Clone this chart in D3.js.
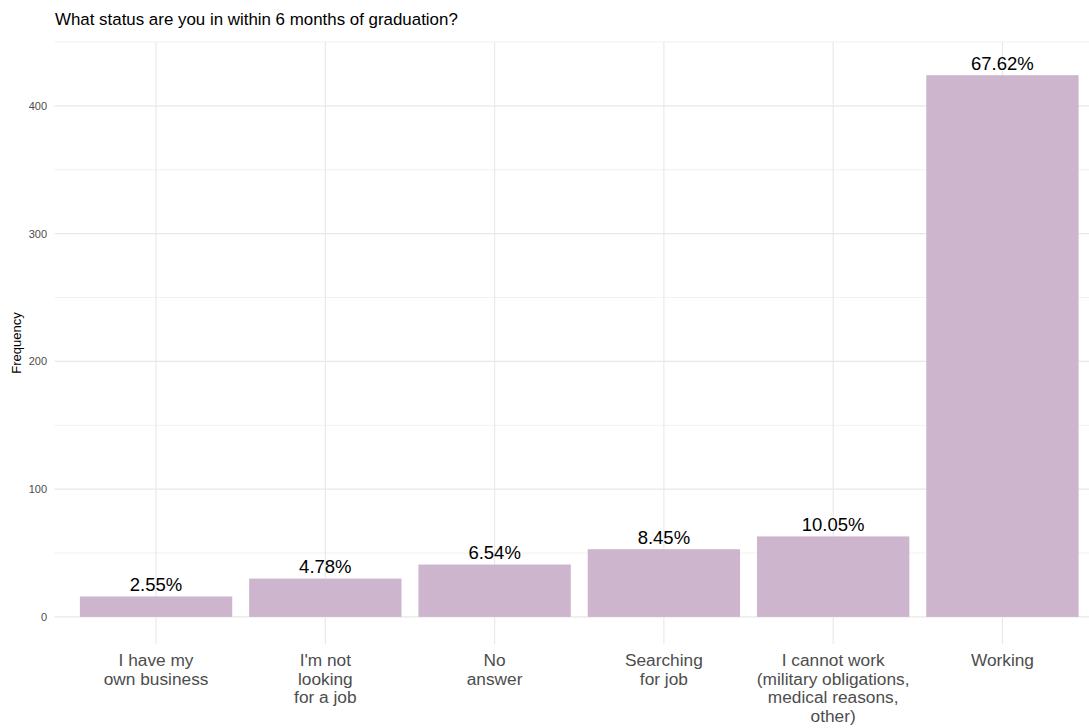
<!DOCTYPE html>
<html><head><meta charset="utf-8">
<script src="https://cdn.jsdelivr.net/npm/d3@7"></script>
<style>body{margin:0;background:#fff}svg{display:block}text{font-family:"Liberation Sans",Arial,sans-serif}</style>
</head><body><svg id="c" width="1089" height="728"></svg>
<script>
const categories = [
  ["I have my","own business"],
  ["I'm not","looking","for a job"],
  ["No","answer"],
  ["Searching","for job"],
  ["I cannot work","(military obligations,","medical reasons,","other)"],
  ["Working"]
];
const counts = [16, 30, 41, 53, 63, 424];
const pctLabels = ["2.55%","4.78%","6.54%","8.45%","10.05%","67.62%"];
const yTicks = [0, 100, 200, 300, 400];
const yMinor = [50, 150, 250, 350, 450];
const title = "What status are you in within 6 months of graduation?";
const yTitle = "Frequency";

const svg = d3.select("#c");
const panel = {left: 54.5, right: 1104, top: 42, bottom: 644};
const idx = d3.range(categories.length);
const unit = (panel.right - panel.left) / (categories.length - 1 + 1.2);
const x = d3.scaleLinear().domain([-0.6, categories.length - 0.4]).range([panel.left, panel.right]);
const y = d3.scaleLinear().domain([-21.2, 450]).range([panel.bottom, panel.top]);
const g = svg.append("g");

g.selectAll(".ymin").data(yMinor).join("line")
  .attr("x1", panel.left).attr("x2", panel.right)
  .attr("y1", d => y(d)).attr("y2", d => y(d))
  .attr("stroke", "#ededed").attr("stroke-width", 0.8);
g.selectAll(".ymaj").data(yTicks).join("line")
  .attr("x1", panel.left).attr("x2", panel.right)
  .attr("y1", d => y(d)).attr("y2", d => y(d))
  .attr("stroke", "#e8e8e8").attr("stroke-width", 1.1);
g.selectAll(".xmaj").data(idx).join("line")
  .attr("x1", d => x(d)).attr("x2", d => x(d))
  .attr("y1", panel.top).attr("y2", panel.bottom)
  .attr("stroke", "#e8e8e8").attr("stroke-width", 1.1);

const bw = unit * 0.9;
g.selectAll(".bar").data(idx).join("rect")
  .attr("x", d => x(d) - bw/2).attr("width", bw)
  .attr("y", d => y(counts[d])).attr("height", d => y(0) - y(counts[d]))
  .attr("fill", "#cdb5cd");

g.selectAll(".val").data(idx).join("text")
  .attr("x", d => x(d)).attr("y", d => y(counts[d]) - 5.5)
  .attr("text-anchor", "middle").attr("font-size", 18.5).attr("fill", "#000")
  .text(d => pctLabels[d]);

g.selectAll(".yl").data(yTicks).join("text")
  .attr("x", 47).attr("y", d => y(d) + 4)
  .attr("text-anchor", "end").attr("font-size", 11).attr("fill", "#4d4d4d")
  .text(d => d);

const xl = g.selectAll(".xl").data(idx).join("text")
  .attr("text-anchor", "middle").attr("font-size", 17.3).attr("fill", "#4d4d4d");
xl.each(function(d){
  const t = d3.select(this);
  categories[d].forEach((line, i) => {
    t.append("tspan").attr("x", x(d)).attr("y", 666 + i * 18.6).text(line);
  });
});

svg.append("text").attr("transform", `translate(21,${(panel.top+panel.bottom)/2}) rotate(-90)`)
  .attr("text-anchor", "middle").attr("font-size", 13).attr("fill", "#000").text(yTitle);

svg.append("text").attr("x", 55).attr("y", 25).attr("font-size", 16.9).attr("fill", "#000").text(title);
</script></body></html>
